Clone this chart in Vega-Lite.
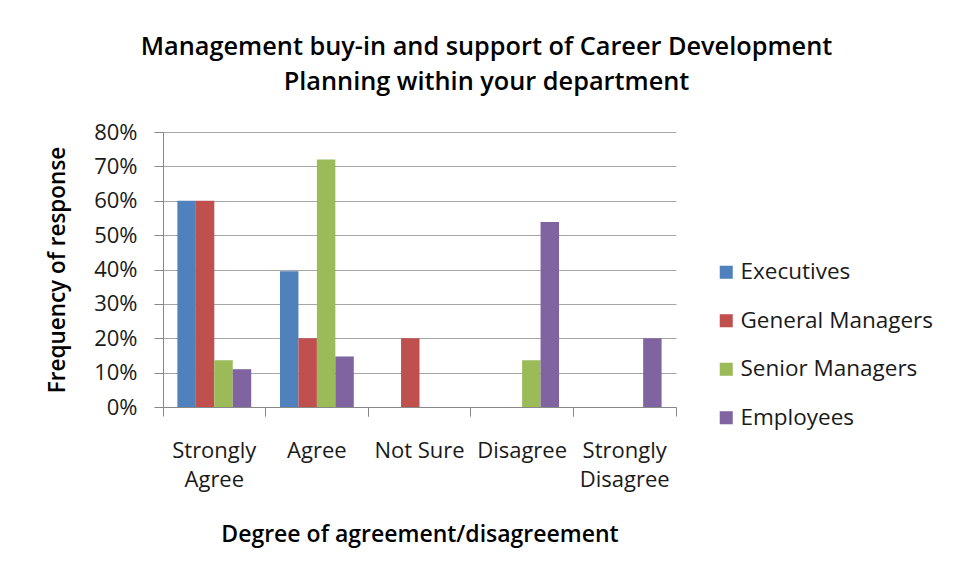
{
  "$schema": "https://vega.github.io/schema/vega-lite/v6.json",
  "width": 513,
  "height": 275,
  "autosize": {"type": "none"},
  "padding": {"left": 163, "top": 132, "right": 279, "bottom": 172},
  "background": "white",
  "title": {
    "text": ["Management buy-in and support of Career Development", "Planning within your department"],
    "font": "Open Sans",
    "fontSize": 25.3,
    "fontWeight": 600,
    "color": "#000000",
    "anchor": "middle",
    "dx": 67,
    "offset": 26,
    "lineHeight": 35
  },
  "data": {
    "values": [
      {"degree": "Strongly Agree", "group": "Executives", "value": 0.60},
      {"degree": "Strongly Agree", "group": "General Managers", "value": 0.60},
      {"degree": "Strongly Agree", "group": "Senior Managers", "value": 0.136},
      {"degree": "Strongly Agree", "group": "Employees", "value": 0.11},
      {"degree": "Agree", "group": "Executives", "value": 0.395},
      {"degree": "Agree", "group": "General Managers", "value": 0.20},
      {"degree": "Agree", "group": "Senior Managers", "value": 0.72},
      {"degree": "Agree", "group": "Employees", "value": 0.147},
      {"degree": "Not Sure", "group": "Executives", "value": 0},
      {"degree": "Not Sure", "group": "General Managers", "value": 0.20},
      {"degree": "Not Sure", "group": "Senior Managers", "value": 0},
      {"degree": "Not Sure", "group": "Employees", "value": 0},
      {"degree": "Disagree", "group": "Executives", "value": 0},
      {"degree": "Disagree", "group": "General Managers", "value": 0},
      {"degree": "Disagree", "group": "Senior Managers", "value": 0.136},
      {"degree": "Disagree", "group": "Employees", "value": 0.538},
      {"degree": "Strongly Disagree", "group": "Executives", "value": 0},
      {"degree": "Strongly Disagree", "group": "General Managers", "value": 0},
      {"degree": "Strongly Disagree", "group": "Senior Managers", "value": 0},
      {"degree": "Strongly Disagree", "group": "Employees", "value": 0.20}
    ]
  },
  "layer": [
    {
      "mark": {"type": "bar"},
      "encoding": {
        "x": {
          "field": "degree",
          "type": "nominal",
          "sort": ["Strongly Agree", "Agree", "Not Sure", "Disagree", "Strongly Disagree"],
          "scale": {"paddingInner": 0, "paddingOuter": 0},
          "axis": {
            "orient": "bottom",
            "title": "Degree of agreement/disagreement",
            "bandPosition": 0,
            "labelAngle": 0,
            "labelExpr": "datum.value == 'Strongly Agree' ? ['Strongly', 'Agree'] : datum.value == 'Strongly Disagree' ? ['Strongly', 'Disagree'] : datum.value",
            "labelLineHeight": 29,
            "labelBaseline": "alphabetic",
            "labelPadding": 41,
            "labelFont": "Open Sans",
            "labelFontSize": 22,
            "labelColor": "#1a1a1a",
            "tickSize": 9,
            "tickColor": "#888888",
            "domainColor": "#888888",
            "grid": false,
            "titleFont": "Open Sans",
            "titleFontSize": 23,
            "titleFontWeight": 600,
            "titleColor": "#000000",
            "titlePadding": 33
          }
        },
        "xOffset": {
          "field": "group",
          "type": "nominal",
          "sort": ["Executives", "General Managers", "Senior Managers", "Employees"],
          "scale": {"paddingInner": 0, "paddingOuter": 0.78}
        },
        "y": {
          "field": "value",
          "type": "quantitative",
          "scale": {"domain": [0, 0.8], "nice": false},
          "axis": {
            "title": "Frequency of response",
            "values": [0, 0.1, 0.2, 0.3, 0.4, 0.5, 0.6, 0.7, 0.8],
            "format": ".0%",
            "labelFont": "Open Sans",
            "labelFontSize": 22,
            "labelColor": "#1a1a1a",
            "labelPadding": 17,
            "tickSize": 9,
            "tickColor": "#888888",
            "domainColor": "#888888",
            "gridColor": "#a6a6a6",
            "titleFont": "Open Sans",
            "titleFontSize": 22.5,
            "titleFontWeight": 600,
            "titleColor": "#000000",
            "titlePadding": 24
          }
        },
        "color": {
          "field": "group",
          "type": "nominal",
          "sort": ["Executives", "General Managers", "Senior Managers", "Employees"],
          "scale": {
            "domain": ["Executives", "General Managers", "Senior Managers", "Employees"],
            "range": ["#4F81BD", "#C0504D", "#9BBB59", "#8064A2"]
          },
          "legend": {
            "title": null,
            "orient": "none",
            "legendX": 552,
            "legendY": 129,
            "symbolType": "square",
            "symbolSize": 170,
            "symbolStrokeWidth": 0,
            "labelFont": "Open Sans",
            "labelFontSize": 22.5,
            "labelColor": "#1a1a1a",
            "labelOffset": 3,
            "rowPadding": 25.5,
            "labelLimit": 300
          }
        }
      }
    },
    {
      "mark": {"type": "bar", "opacity": 0},
      "encoding": {
        "x": {
          "field": "degree",
          "type": "nominal",
          "sort": ["Strongly Agree", "Agree", "Not Sure", "Disagree", "Strongly Disagree"],
          "axis": {
            "orient": "bottom",
            "title": null,
            "bandPosition": 1,
            "labels": false,
            "domain": false,
            "grid": false,
            "tickSize": 9,
            "tickColor": "#888888"
          }
        }
      }
    }
  ],
  "resolve": {"axis": {"x": "independent"}},
  "config": {
    "view": {"stroke": null}
  }
}
